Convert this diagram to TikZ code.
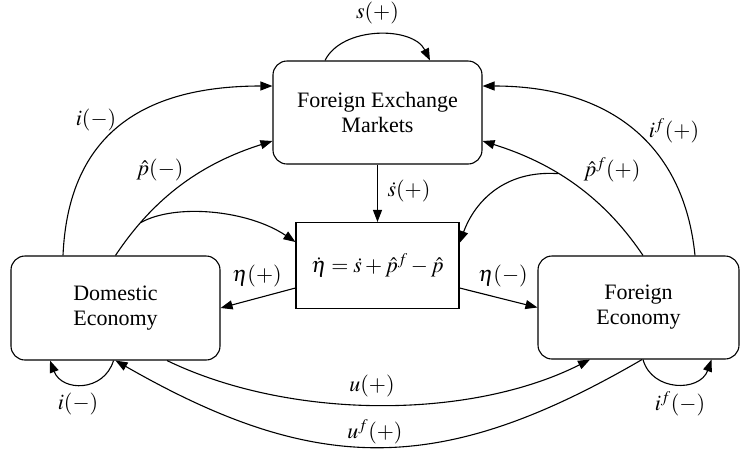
\documentclass[tikz,border=0pt]{standalone}
\usepackage{mathptmx}
\usepackage[no-math]{fontspec}
\setmainfont{Liberation Serif}
\usetikzlibrary{arrows.meta,calc}
\begin{document}
\begin{tikzpicture}[x=1pt,y=-1pt, line width=1.1pt,
  box/.style={draw, rounded corners=14pt, align=center, inner sep=0pt, font=\fontsize{22}{25}\selectfont},
  eqbox/.style={draw, inner sep=0pt, font=\fontsize{22}{25}\selectfont},
  lab/.style={font=\fontsize{22}{25}\selectfont, inner sep=0pt},
  arr/.style={-{Triangle[length=12pt,width=9pt]}},
]
\useasboundingbox (0,0) rectangle (740,451);
\node[box, minimum width=209pt, minimum height=103pt] (fx) at (377.5,112.5) {Foreign Exchange\\Markets};
\node[eqbox, minimum width=163pt, minimum height=86pt] (eq) at (377.5,265.5) {$\dot{\eta} = \dot{s} + \hat{p}^{f} - \hat{p}$};
\node[box, minimum width=209pt, minimum height=104pt] (dom) at (115.5,308) {Domestic\\Economy};
\node[box, minimum width=201pt, minimum height=103pt] (fe) at (638.5,307.5) {Foreign\\Economy};

% s(+) self loop
\draw[arr] ([xshift=-52.5pt]fx.north) .. controls (342,26) and (413,26) .. ([xshift=52.5pt]fx.north);
% i(-) to FX
\draw[arr] ([xshift=-52.5pt]dom.north) .. controls (68,140) and (136,86) .. ([yshift=26.5pt]fx.west);
% p-hat(-) to FX
\draw[arr] (dom.north) .. controls (155,196) and (203,163) .. ([yshift=-28.5pt]fx.west) coordinate[pos=0.2] (bl);
% branch to eq (left)
\draw[arr] (bl) .. controls (175,203) and (248,210) .. ([yshift=23.5pt]eq.west);
% s-dot
\draw[arr] (fx.south) -- (eq.north);
% i^f(+) to FX
\draw[arr] ([xshift=56.5pt]fe.north) .. controls (684,145) and (610,86) .. ([yshift=26.5pt]fx.east);
% p-hat^f(+) to FX
\draw[arr] ([xshift=4.5pt]fe.north) .. controls (603,196) and (553,163) .. ([yshift=-28.5pt]fx.east) coordinate[pos=0.6] (br);
% branch to eq (right)
\draw[arr] (br) .. controls (505,170) and (475,201) .. ([yshift=22.5pt]eq.east);
% eta
\draw[arr] ([yshift=-22.5pt]eq.west) -- (dom.east);
\draw[arr] ([yshift=-22.5pt]eq.east) -- (fe.west);
% u(+)
\draw[arr] ([xshift=51.5pt]dom.south) .. controls (290,420) and (470,420) .. ([xshift=-48.5pt]fe.south);
% u^f(+)
\draw[arr] ([xshift=3.5pt]fe.south) .. controls (442,476) and (317,476) .. (dom.south);
% self loops
\draw[arr] ([xshift=-2pt]dom.south) .. controls (104,392) and (62,392) .. ([xshift=-65.5pt]dom.south);
\draw[arr] ([xshift=4.5pt]fe.south) .. controls (652,392) and (700,392) .. ([xshift=73pt]fe.south);

% labels
\node[lab] (ls) at (377.5,13) {$s(+)$};
\node[lab] (li) at (96,120) {$i(-)$};
\node[lab] (lp) at (160,170) {$\hat{p}(-)$};
\node[lab] (lsd) at (409,191) {$\dot{s}(+)$};
\node[lab] (lif) at (674,131) {$i^{f}(+)$};
\node[lab] (lpf) at (612,170) {$\hat{p}^{f}(+)$};
\node[lab] (le1) at (257,276) {$\eta(+)$};
\node[lab] (le2) at (503,276) {$\eta(-)$};
\node[lab] (lu) at (372,386) {$u(+)$};
\node[lab] (luf) at (375,432) {$u^{f}(+)$};
\node[lab] (li2) at (78,404) {$i(-)$};
\node[lab] (lif2) at (680,404) {$i^{f}(-)$};
\end{tikzpicture}
\end{document}
